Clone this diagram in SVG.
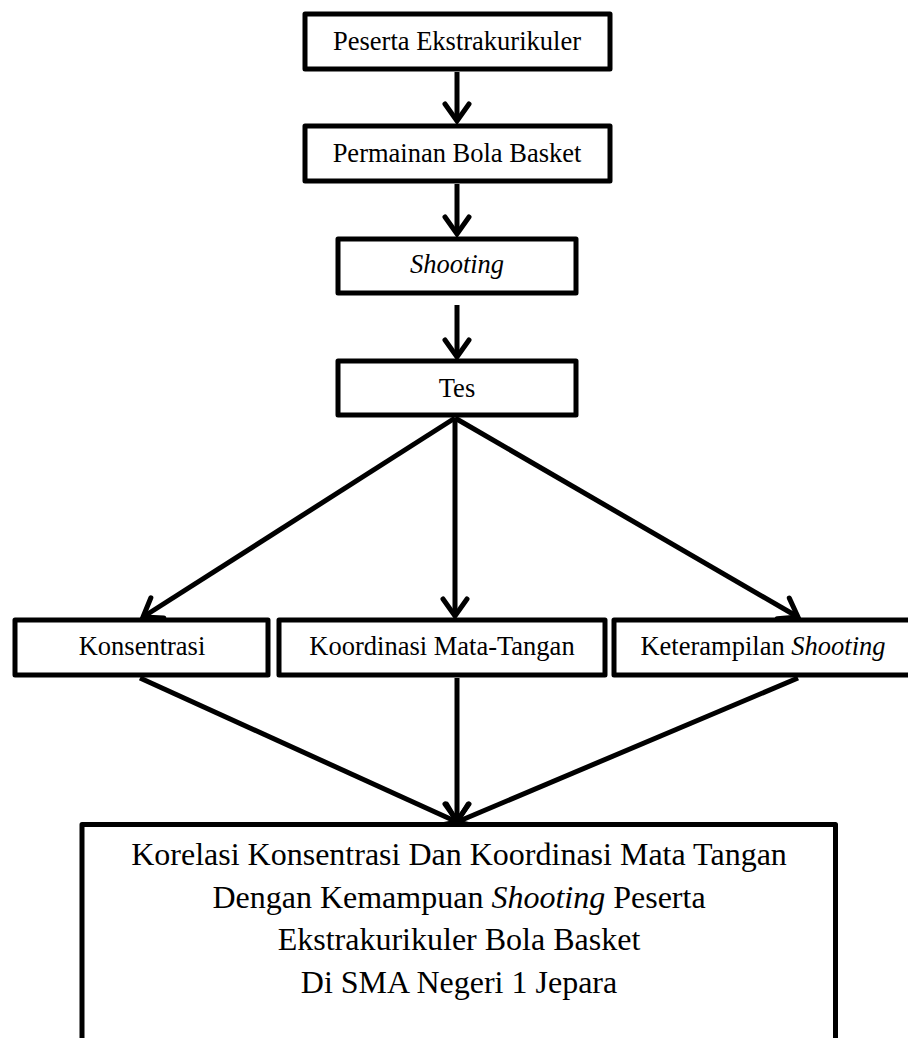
<svg xmlns="http://www.w3.org/2000/svg" width="908" height="1038" viewBox="0 0 908 1038">
<style>
.box{fill:#fff;stroke:#000;stroke-width:5;stroke-linejoin:round}
.t{font-family:"Liberation Serif","Times New Roman",serif;font-size:26.5px;fill:#000;text-anchor:middle}
.tb{font-family:"Liberation Serif","Times New Roman",serif;font-size:32px;fill:#000;text-anchor:middle}
.i{font-style:italic}
.c{stroke:#000;stroke-width:5;fill:none;marker-end:url(#ah)}
</style>
<defs>
<marker id="ah" markerUnits="userSpaceOnUse" markerWidth="40" markerHeight="40" viewBox="-22 -20 30 40" refX="0" refY="0" orient="auto">
<path d="M-17 -12 L0 0 L-17 12" fill="none" stroke="#000" stroke-width="5" stroke-linecap="round" stroke-linejoin="miter"/>
</marker>
</defs>
<g id="connectors">
<line class="c" x1="457" y1="72" x2="457" y2="121"/>
<line class="c" x1="457" y1="184" x2="457" y2="234"/>
<line class="c" x1="457" y1="305" x2="457" y2="357"/>
<line class="c" x1="455" y1="418" x2="143" y2="617"/>
<line class="c" x1="455" y1="418" x2="455" y2="616"/>
<line class="c" x1="455" y1="418" x2="798" y2="617"/>
<line class="c" x1="140" y1="678" x2="457" y2="822"/>
<line class="c" x1="457" y1="678" x2="457" y2="821"/>
<line class="c" x1="798" y1="678" x2="457" y2="822"/>
</g>
<g id="n1"><rect class="box" x="305" y="14" width="305" height="55"/><text class="t" x="457" y="50">Peserta Ekstrakurikuler</text></g>
<g id="n2"><rect class="box" x="305" y="126" width="305" height="55"/><text class="t" x="457" y="162">Permainan Bola Basket</text></g>
<g id="n3"><rect class="box" x="338" y="239" width="238" height="54"/><text class="t i" x="457" y="273">Shooting</text></g>
<g id="n4"><rect class="box" x="338" y="361" width="238" height="54"/><text class="t" x="457" y="397">Tes</text></g>
<g id="n5"><rect class="box" x="15" y="620" width="253" height="55"/><text class="t" x="142" y="655">Konsentrasi</text></g>
<g id="n6"><rect class="box" x="279" y="620" width="326" height="55"/><text class="t" x="442" y="655">Koordinasi Mata-Tangan</text></g>
<g id="n7"><rect class="box" x="614" y="620" width="310" height="55"/><text class="t" x="763" y="655">Keterampilan <tspan class="i">Shooting</tspan></text></g>
<g id="n8"><rect class="box" x="82" y="824.5" width="753.5" height="240"/>
<text class="tb" x="459" y="865">Korelasi Konsentrasi Dan Koordinasi Mata Tangan</text>
<text class="tb" x="459" y="908">Dengan Kemampuan <tspan class="i">Shooting</tspan> Peserta</text>
<text class="tb" x="459" y="950">Ekstrakurikuler Bola Basket</text>
<text class="tb" x="459" y="993">Di SMA Negeri 1 Jepara</text>
</g>
</svg>
